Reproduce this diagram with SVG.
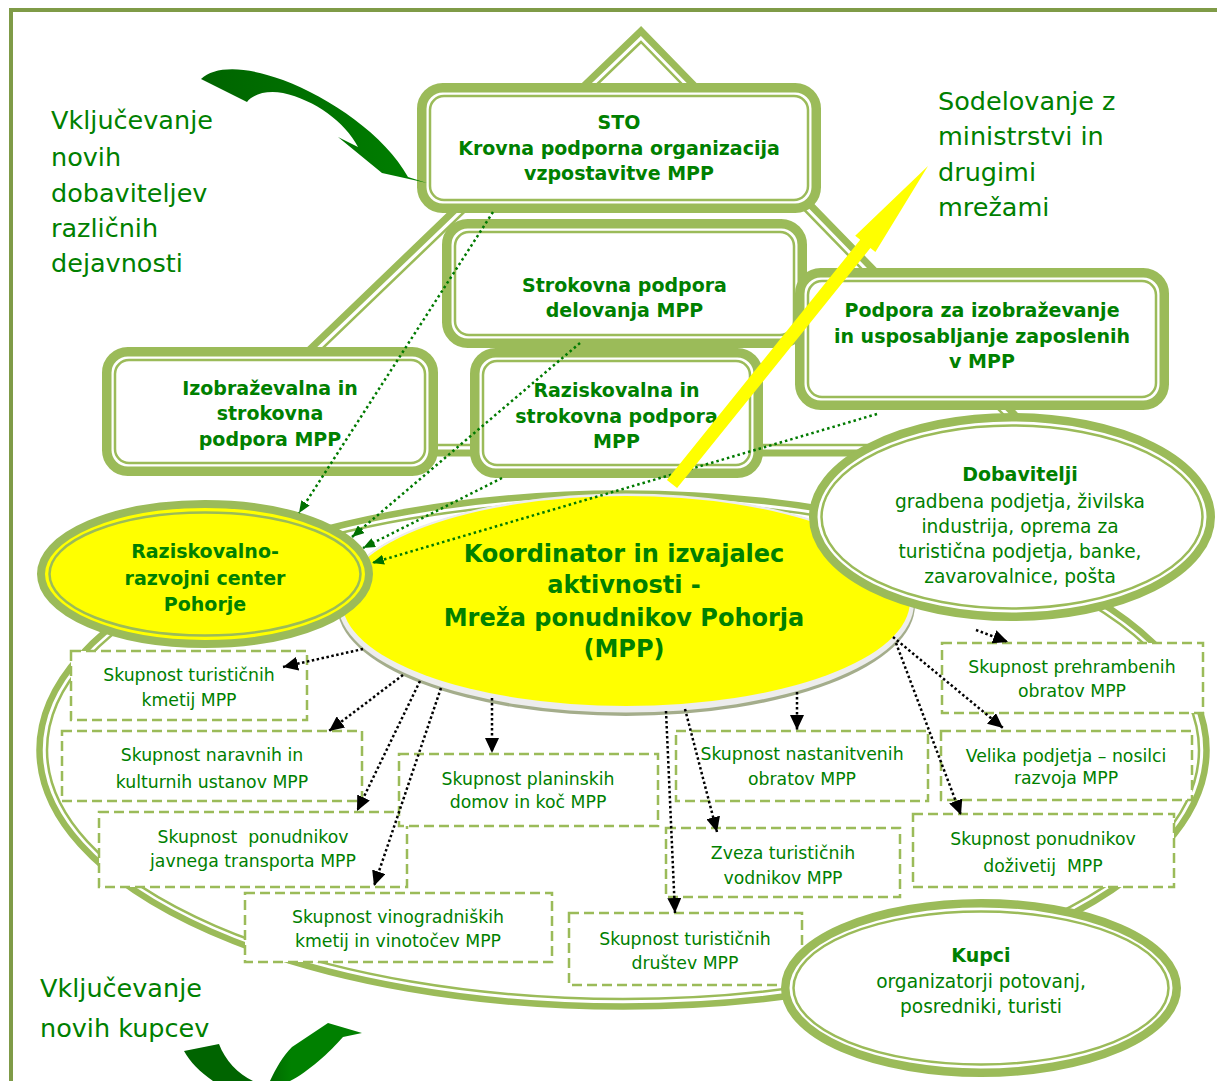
<svg xmlns="http://www.w3.org/2000/svg" width="1217" height="1081" viewBox="0 0 1217 1081">
<style>
.t{font-family:"DejaVu Sans",Verdana,sans-serif;fill:#008000;text-anchor:middle}
.lt{font-family:"DejaVu Sans",Verdana,sans-serif;fill:#008000;font-size:25.5px}
.b{font-weight:bold;font-size:19px}
.c{font-weight:bold;font-size:24px}
.s{font-size:17.3px}
.e{font-size:18.6px}
.band{fill:#fff;stroke:#9BBB59;stroke-width:9.5}
.thin{fill:none;stroke:#9BBB59;stroke-width:2.5}
.dash{fill:#fff;stroke:#9BBB59;stroke-width:2.5;stroke-dasharray:10 5}
.gd{stroke:#007A00;stroke-width:2.5;stroke-dasharray:2.5 3;fill:none;marker-end:url(#ag)}
.kd{stroke:#000;stroke-width:2.5;stroke-dasharray:2.5 2.5;fill:none;marker-end:url(#ak)}
</style>
<defs>
<marker id="ak" markerUnits="userSpaceOnUse" viewBox="0 0 15 14" markerWidth="15" markerHeight="14" refX="15" refY="7" orient="auto"><path d="M0,0 L15,7 L0,14 z" fill="#000"/></marker>
<marker id="ag" markerUnits="userSpaceOnUse" viewBox="0 0 12 10" markerWidth="12" markerHeight="10" refX="12" refY="5" orient="auto"><path d="M0,0 L12,5 L0,10 z" fill="#007000"/></marker>
<linearGradient id="gTop" x1="201" y1="0" x2="427" y2="0" gradientUnits="userSpaceOnUse"><stop offset="0" stop-color="#006400"/><stop offset="1" stop-color="#008000"/></linearGradient>
<linearGradient id="gBot" x1="184" y1="0" x2="362" y2="0" gradientUnits="userSpaceOnUse"><stop offset="0" stop-color="#006400"/><stop offset="0.45" stop-color="#006400"/><stop offset="0.6" stop-color="#008000"/><stop offset="1" stop-color="#008000"/></linearGradient>
<clipPath id="dobClip"><rect x="820" y="440" width="400" height="147"/></clipPath>
</defs>
<rect width="1217" height="1081" fill="#fff"/>
<g id="frame" stroke="#7F9B47" stroke-width="4">
<line x1="9" y1="10" x2="1217" y2="10"/>
<line x1="11" y1="8" x2="11" y2="1081"/>
</g>
<g id="pyramid">
<polygon points="641,31 202,453 1052,453" fill="none" stroke="#9BBB59" stroke-width="7"/>
<polygon points="641,42 222,445 1033,445" fill="none" stroke="#9BBB59" stroke-width="2.5"/>
</g>
<g id="sto">
<rect class="band" x="421.75" y="87.75" width="394.5" height="120.5" rx="21"/>
<rect class="thin" x="430" y="96" width="378" height="104" rx="14"/>
<text class="t b" x="619" y="129">STO</text>
<text class="t b" x="619" y="155">Krovna podporna organizacija</text>
<text class="t b" x="619" y="180">vzpostavitve MPP</text>
</g>
<g id="strokovna">
<rect class="band" x="446.75" y="223.75" width="355.5" height="119.5" rx="21"/>
<rect class="thin" x="455" y="232" width="339" height="103" rx="14"/>
<text class="t b" x="624.5" y="292">Strokovna podpora</text>
<text class="t b" x="624.5" y="317">delovanja MPP</text>
</g>
<g id="podpora">
<rect class="band" x="799.75" y="272.75" width="364.5" height="132.5" rx="21"/>
<rect class="thin" x="808" y="281" width="348" height="116" rx="14"/>
<text class="t b" x="982" y="317">Podpora za izobraževanje</text>
<text class="t b" x="982" y="343">in usposabljanje zaposlenih</text>
<text class="t b" x="982" y="368">v MPP</text>
</g>
<g id="izobrazevalna">
<rect class="band" x="106.75" y="351.75" width="326.5" height="119.5" rx="21"/>
<rect class="thin" x="115" y="360" width="310" height="103" rx="14"/>
<text class="t b" x="270" y="395">Izobraževalna in</text>
<text class="t b" x="270" y="420">strokovna</text>
<text class="t b" x="270" y="446">podpora MPP</text>
</g>
<g id="raziskovalna">
<rect class="band" x="474.75" y="352.75" width="283.5" height="120.5" rx="21"/>
<rect class="thin" x="483" y="361" width="267" height="104" rx="14"/>
<text class="t b" x="616.5" y="397">Raziskovalna in</text>
<text class="t b" x="616.5" y="423">strokovna podpora</text>
<text class="t b" x="616.5" y="448">MPP</text>
</g>
<g id="mreza-okvir">
<ellipse cx="623" cy="750" rx="583.5" ry="256.5" fill="none" stroke="#9BBB59" stroke-width="6.5"/>
<ellipse cx="623" cy="750" rx="576" ry="249" fill="none" stroke="#9BBB59" stroke-width="2.5"/>
</g>
<g id="koordinator">
<ellipse cx="626" cy="605" rx="289" ry="111" fill="#A4AD8B"/>
<ellipse cx="626" cy="603" rx="288" ry="109.5" fill="#EDEDED"/>
<ellipse cx="626" cy="601" rx="284" ry="105" fill="#FFFF00"/>
<text class="t c" x="624" y="562">Koordinator in izvajalec</text>
<text class="t c" x="624" y="593">aktivnosti -</text>
<text class="t c" x="624" y="626">Mreža ponudnikov Pohorja</text>
<text class="t c" x="624" y="657">(MPP)</text>
</g>
<g id="rrc">
<ellipse cx="205" cy="574" rx="164" ry="70" fill="#FFFF00" stroke="#9BBB59" stroke-width="8"/>
<ellipse cx="205" cy="574" rx="155.5" ry="61.5" fill="none" stroke="#9BBB59" stroke-width="2.5"/>
<text class="t b" x="205" y="558">Raziskovalno-</text>
<text class="t b" x="205" y="585">razvojni center</text>
<text class="t b" x="205" y="611">Pohorje</text>
</g>
<g id="dobavitelji">
<ellipse cx="1012" cy="517" rx="198.75" ry="99.75" fill="#fff" stroke="#9BBB59" stroke-width="8.5"/>
<ellipse cx="1012" cy="517" rx="190.5" ry="91.5" fill="none" stroke="#9BBB59" stroke-width="2.5"/>
<text class="t b" x="1020" y="481">Dobavitelji</text>
<g clip-path="url(#dobClip)">
<text class="t e" x="1020" y="508">gradbena podjetja, živilska</text>
<text class="t e" x="1020" y="533">industrija, oprema za</text>
<text class="t e" x="1020" y="558">turistična podjetja, banke,</text>
<text class="t e" x="1020" y="583">zavarovalnice, pošta</text>
</g>
</g>
<g id="box-kmetije">
<rect class="dash" x="71" y="651" width="236" height="69"/>
<text class="t s" x="189" y="681">Skupnost turističnih</text>
<text class="t s" x="189" y="706">kmetij MPP</text>
</g>
<g id="box-naravne">
<rect class="dash" x="62" y="731" width="300" height="70"/>
<text class="t s" x="212" y="761">Skupnost naravnih in</text>
<text class="t s" x="212" y="788">kulturnih ustanov MPP</text>
</g>
<g id="box-transport">
<rect class="dash" x="99" y="812" width="308" height="75"/>
<text class="t s" x="253" y="843" xml:space="preserve">Skupnost  ponudnikov</text>
<text class="t s" x="253" y="867">javnega transporta MPP</text>
</g>
<g id="box-vino">
<rect class="dash" x="245" y="893" width="307" height="69"/>
<text class="t s" x="398" y="923">Skupnost vinogradniških</text>
<text class="t s" x="398" y="947">kmetij in vinotočev MPP</text>
</g>
<g id="box-planinski">
<rect class="dash" x="399" y="754" width="259" height="72"/>
<text class="t s" x="528" y="785">Skupnost planinskih</text>
<text class="t s" x="528" y="808">domov in koč MPP</text>
</g>
<g id="box-nastanitveni">
<rect class="dash" x="676" y="731" width="252" height="70"/>
<text class="t s" x="802" y="760">Skupnost nastanitvenih</text>
<text class="t s" x="802" y="785">obratov MPP</text>
</g>
<g id="box-vodniki">
<rect class="dash" x="666" y="828" width="234" height="69"/>
<text class="t s" x="783" y="859">Zveza turističnih</text>
<text class="t s" x="783" y="884">vodnikov MPP</text>
</g>
<g id="box-drustva">
<rect class="dash" x="569" y="913" width="233" height="72"/>
<text class="t s" x="685" y="945">Skupnost turističnih</text>
<text class="t s" x="685" y="969">društev MPP</text>
</g>
<g id="box-prehrambeni">
<rect class="dash" x="942" y="643" width="261" height="70"/>
<text class="t s" x="1072" y="673">Skupnost prehrambenih</text>
<text class="t s" x="1072" y="697">obratov MPP</text>
</g>
<g id="box-velika">
<rect class="dash" x="941" y="731" width="251" height="69"/>
<text class="t s" x="1066" y="762">Velika podjetja – nosilci</text>
<text class="t s" x="1066" y="784">razvoja MPP</text>
</g>
<g id="box-dozivetja">
<rect class="dash" x="913" y="814" width="261" height="73"/>
<text class="t s" x="1043" y="845">Skupnost ponudnikov</text>
<text class="t s" x="1043" y="872" xml:space="preserve">doživetij  MPP</text>
</g>
<g id="kupci">
<ellipse cx="981" cy="988" rx="195.75" ry="84.75" fill="#fff" stroke="#9BBB59" stroke-width="8.5"/>
<ellipse cx="981" cy="988" rx="187.5" ry="76.5" fill="none" stroke="#9BBB59" stroke-width="2.5"/>
<text class="t b" x="981" y="962">Kupci</text>
<text class="t e" x="981" y="988">organizatorji potovanj,</text>
<text class="t e" x="981" y="1013">posredniki, turisti</text>
</g>
<g id="labels">
<text class="lt" x="51" y="129">Vključevanje</text>
<text class="lt" x="51" y="166">novih</text>
<text class="lt" x="51" y="202">dobaviteljev</text>
<text class="lt" x="51" y="237">različnih</text>
<text class="lt" x="51" y="272">dejavnosti</text>
<text class="lt" x="938" y="110">Sodelovanje z</text>
<text class="lt" x="938" y="145">ministrstvi in</text>
<text class="lt" x="938" y="181">drugimi</text>
<text class="lt" x="938" y="216">mrežami</text>
<text class="lt" x="40" y="997">Vključevanje</text>
<text class="lt" x="40" y="1037">novih kupcev</text>
</g>
<g id="curved-arrows">
<path d="M201,79 C215,66 245,66 283,80 C330,98 385,135 408,177 L427,183 L382,173 L338,137 L358,147 C345,122 315,100 283,93 C265,90 252,95 247,102 Z" fill="url(#gTop)"/>
<path d="M184,1051 L219,1044 C225,1060 238,1074 253,1081 L270,1081 C276,1068 283,1056 292,1047 L328,1023 L362,1033 L343,1037 C330,1052 308,1072 290,1081 L290,1086 L213,1086 L213,1081 C200,1072 190,1062 184,1051 Z" fill="url(#gBot)"/>
</g>
<g id="connectors">
<line class="gd" x1="493" y1="212" x2="299" y2="513"/>
<line class="gd" x1="580" y1="343" x2="352" y2="537"/>
<line class="gd" x1="502" y1="478" x2="363" y2="548"/>
<line class="gd" x1="877" y1="414" x2="372" y2="563"/>
<line class="kd" x1="363" y1="649" x2="283" y2="667"/>
<line class="kd" x1="403" y1="675" x2="329" y2="731"/>
<line class="kd" x1="420" y1="681" x2="357" y2="811"/>
<line class="kd" x1="441" y1="688" x2="374" y2="886"/>
<line class="kd" x1="492" y1="698" x2="492" y2="753"/>
<line class="kd" x1="666" y1="711" x2="675" y2="913"/>
<line class="kd" x1="685" y1="709" x2="717" y2="832"/>
<line class="kd" x1="797" y1="692" x2="797" y2="730"/>
<line class="kd" x1="893" y1="637" x2="1003" y2="728"/>
<line class="kd" x1="896" y1="643" x2="961" y2="815"/>
<line class="kd" x1="976" y1="630" x2="1008" y2="642"/>
<polygon id="arrow-sodelovanje" points="666.9,479.9 860.2,239.8 855.2,235.7 928,166 875.4,252.1 870.4,248 677.1,488.1" fill="#FFFF00"/>
</g>
</svg>
